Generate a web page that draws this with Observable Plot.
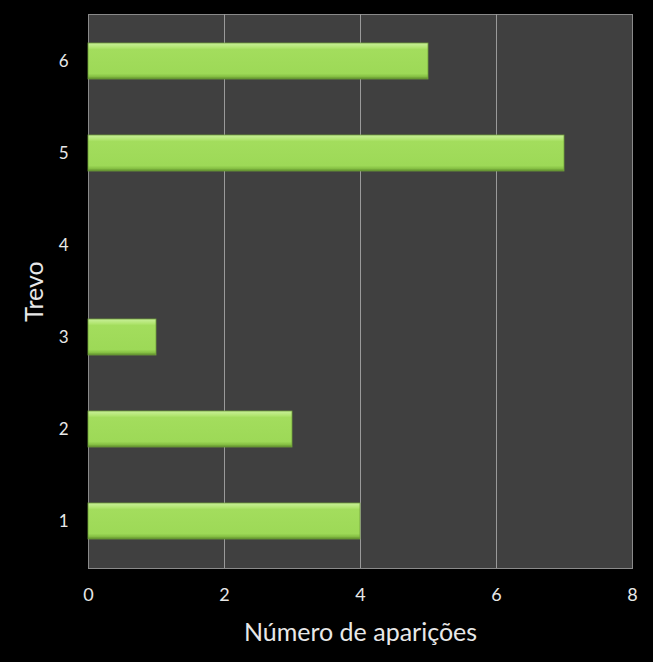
<!DOCTYPE html>
<html>
<head>
<meta charset="utf-8">
<script src="https://cdn.jsdelivr.net/npm/d3@7"></script>
<script src="https://cdn.jsdelivr.net/npm/@observablehq/plot@0.6"></script>
<style>
  html, body { margin: 0; padding: 0; background: #000; }
  #chart { width: 653px; height: 662px; }
</style>
</head>
<body>
<div id="chart"></div>
<script>
const categories = ["1", "2", "3", "4", "5", "6"];
const values = [4, 3, 1, 0, 7, 5];
const xTicks = [0, 2, 4, 6, 8];

const data = categories.map((c, i) => ({trevo: c, n: values[i]}));

const chart = Plot.plot({
  width: 653,
  height: 662,
  marginLeft: 88,
  marginRight: 21,
  marginTop: 14,
  marginBottom: 94,
  style: {background: "#000", color: "#e8e8e8", fontFamily: "Lato, 'Open Sans', sans-serif"},
  x: {domain: [0, 8], ticks: xTicks},
  y: {domain: [...categories].reverse(), paddingInner: 0.61, paddingOuter: 0.305, align: 0.5},
  marks: [
    Plot.frame({fill: "#404040", stroke: "#8a8a8a"}),
    Plot.gridX(xTicks.filter(t => t > 0 && t < 8), {stroke: "#9a9a9a", strokeOpacity: 1, strokeWidth: 1}),
    Plot.barX(data, {y: "trevo", x: "n", fill: "url(#barGrad)", stroke: "#6f9e3a", strokeWidth: 0.8}),
    Plot.axisX({ticks: xTicks, tickSize: 0, tickPadding: 20, fontSize: 18, fill: "#e8e8e8",
      label: "Número de aparições", labelAnchor: "center", labelArrow: false, labelOffset: 72}),
    Plot.axisY({tickSize: 0, tickPadding: 20, fontSize: 17, fill: "#e8e8e8",
      label: "Trevo", labelAnchor: "center", labelArrow: false, labelOffset: 63})
  ]
});

const svgNS = "http://www.w3.org/2000/svg";
const defs = document.createElementNS(svgNS, "defs");
defs.innerHTML = `
  <linearGradient id="barGrad" x1="0" y1="0" x2="0" y2="1">
    <stop offset="0%" stop-color="#c9f09a"/>
    <stop offset="12%" stop-color="#b2e672"/>
    <stop offset="18%" stop-color="#a3dd5d"/>
    <stop offset="85%" stop-color="#9dd957"/>
    <stop offset="93%" stop-color="#86c044"/>
    <stop offset="100%" stop-color="#5d8a2c"/>
  </linearGradient>`;
chart.insertBefore(defs, chart.firstChild);
chart.querySelectorAll("g[aria-label='x-axis label'] text, g[aria-label='y-axis label'] text").forEach(t => {
  t.setAttribute("font-size", "25");
});
document.getElementById("chart").appendChild(chart);
</script>
</body>
</html>
